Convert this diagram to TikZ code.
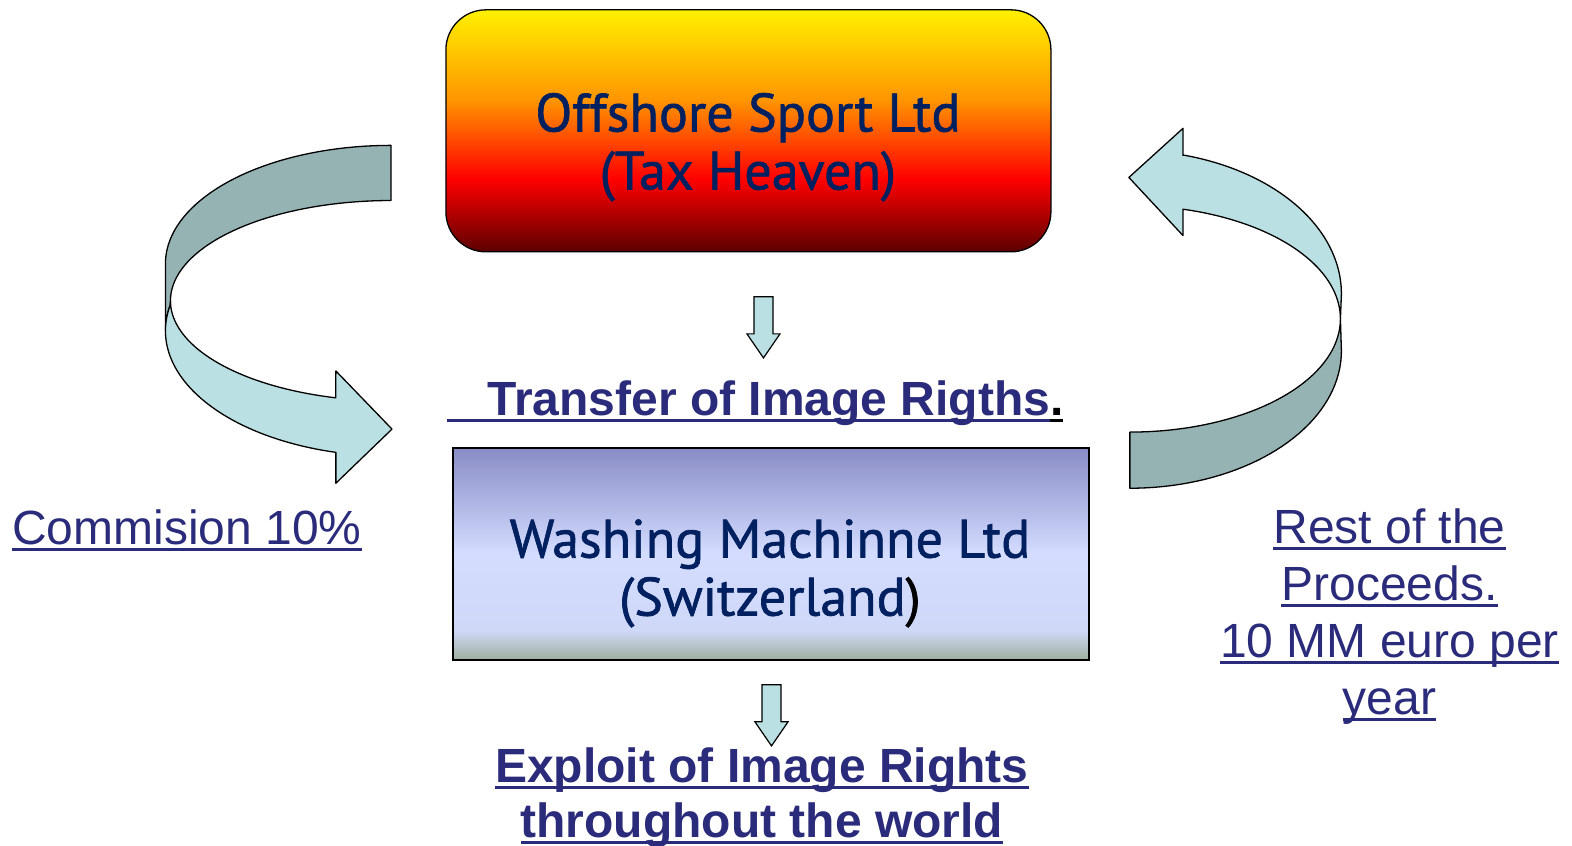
\documentclass[tikz,border=0pt]{standalone}
\usepackage{fontspec}
\setmainfont{Liberation Sans}
\newfontfamily\boxfont[FakeBold=1.2]{PT Sans}

\definecolor{boxtext}{HTML}{002060}
\definecolor{linktext}{RGB}{43,43,123}
\definecolor{ribbonfront}{RGB}{186,224,227}
\definecolor{ribbonback}{RGB}{150,179,180}
\definecolor{hvDark}{RGB}{92,0,0}
\definecolor{hvRed}{RGB}{255,0,0}
\definecolor{hvOrange}{RGB}{255,150,0}
\definecolor{hvYellow}{RGB}{255,240,0}
\definecolor{swTop}{RGB}{136,140,198}
\definecolor{swMid}{RGB}{212,220,255}
\definecolor{swLow}{RGB}{208,216,248}
\definecolor{swBot}{RGB}{158,175,158}

% only 25bp..75bp of a vertical shading is stretched over the path
\pgfdeclareverticalshading{taxhaven}{100bp}{%
  color(0bp)=(hvDark); color(25bp)=(hvDark); color(40bp)=(hvRed);
  color(56.5bp)=(hvOrange); color(75bp)=(hvYellow); color(100bp)=(hvYellow)}
\pgfdeclareverticalshading{swiss}{100bp}{%
  color(0bp)=(swBot); color(25bp)=(swBot); color(32bp)=(swLow);
  color(50bp)=(swMid); color(75bp)=(swTop); color(100bp)=(swTop)}

% text with a flat underline that the descenders cross
\newcommand\ulink[1]{\setbox0=\hbox{#1}\rlap{\rule[-0.135em]{\wd0}{0.06em}}\box0}

\tikzset{
  company/.style={draw=black, line width=1.3pt, inner sep=0pt, outer sep=0pt},
  boxlabel/.style={text=boxtext, align=center, inner sep=0pt,
    font=\boxfont\fontsize{54}{58}\selectfont},
  linklabel/.style={text=linktext, align=center, inner sep=0pt,
    font=\fontsize{48}{57}\selectfont},
  ribbon/.style={draw=black, line width=1.3pt, line join=round},
  downarrow/.style={draw=black, fill=ribbonfront, line width=1.2pt, line join=miter},
}

\begin{document}
\begin{tikzpicture}[x=1.00255pt, y=-1.00255pt]
\useasboundingbox (0,0) rectangle (1568,843);

% the two companies (label nodes are placed on the baseline of their last line)
\node[company, rounded corners=40pt, minimum width=605pt, minimum height=242pt,
      shading=taxhaven] (offshore) at (746.5,130.5) {};
\node[boxlabel, anchor=base] (offshore-text) at (746,189)
  {Offshore Sport Ltd\\(Tax Heaven)};

\node[company, minimum width=636pt, minimum height=212pt,
      shading=swiss] (washing) at (769,552.5) {};
\node[boxlabel, anchor=base] (washing-text) at (768,614)
  {Washing Machinne Ltd\\(Switzerland{\color{black})}};

% captions
\node[linklabel, font=\bfseries\fontsize{48}{57}\selectfont, anchor=base west]
  (transfer) at (446,414)
  {\ulink{\hspace*{40pt}Transfer of Image Rigths}{\color{black}\ulink{.}}};
\node[linklabel, font=\bfseries\fontsize{48}{55}\selectfont, anchor=base]
  (exploit) at (760,835)
  {\ulink{Exploit of Image Rights}\\\ulink{throughout the world}};
\node[linklabel, anchor=base west] (commission) at (12,543)
  {\ulink{Commision 10\%}};
\node[linklabel, anchor=base] (rest) at (1386,713)
  {\ulink{Rest of the}\\\ulink{Proceeds.}\\\ulink{10 MM euro per}\\\ulink{year}};

% small block arrows under each company
\coordinate (a1) at (761.5,296);
\coordinate (a2) at (769.5,683);
\foreach \c/\len in {a1/37, a2/37} {
  \draw[downarrow] ([xshift=-9.5pt]\c) -- ++(0,\len) -- ++(-7,0)
    -- ++(16.5,24) -- ++(16.5,-24) -- ++(-7,0) -- ++(0,-\len) -- cycle;
}

% left curved ribbon arrow: back (upper) part
\filldraw[ribbon, fill=ribbonback] (390,145)
  -- plot[domain=90:180, samples=40] ({390+225*cos(\x)},{263-118*sin(\x)})
  -- (165,330)
  -- plot[domain=180:168, samples=8] ({390+225*cos(\x)},{330-125*sin(\x)})
  -- plot[domain=180:90, samples=40] ({390+220*cos(\x)},{300-100*sin(\x)})
  -- cycle;
% left curved ribbon arrow: front (lower) part with head
\filldraw[ribbon, fill=ribbonfront]
  plot[domain=180:255.5, samples=40] ({390+220*cos(\x)},{300-100*sin(\x)})
  -- (335,370) -- (391,428) -- (335,482) -- (335,452)
  -- plot[domain=255.85:168, samples=50] ({390+225*cos(\x)},{330-125*sin(\x)})
  -- cycle;

% right curved ribbon arrow: front (upper) part with head
\filldraw[ribbon, fill=ribbonfront] (1180,155)
  -- plot[domain=75.5:0, samples=40] ({1127+211*cos(\x)},{293-143*sin(\x)})
  -- plot[domain=0:75.4, samples=40] ({1127+210*cos(\x)},{318-113*sin(\x)})
  -- (1180,235) -- (1126,177) -- (1180,128) -- cycle;
% right curved ribbon arrow: back (lower) part
\filldraw[ribbon, fill=ribbonback]
  plot[domain=0:-90, samples=40] ({1127+210*cos(\x)},{318-113*sin(\x)})
  -- (1127,487)
  -- plot[domain=-90:0, samples=40] ({1127+211*cos(\x)},{350-137*sin(\x)})
  -- cycle;
\end{tikzpicture}
\end{document}
